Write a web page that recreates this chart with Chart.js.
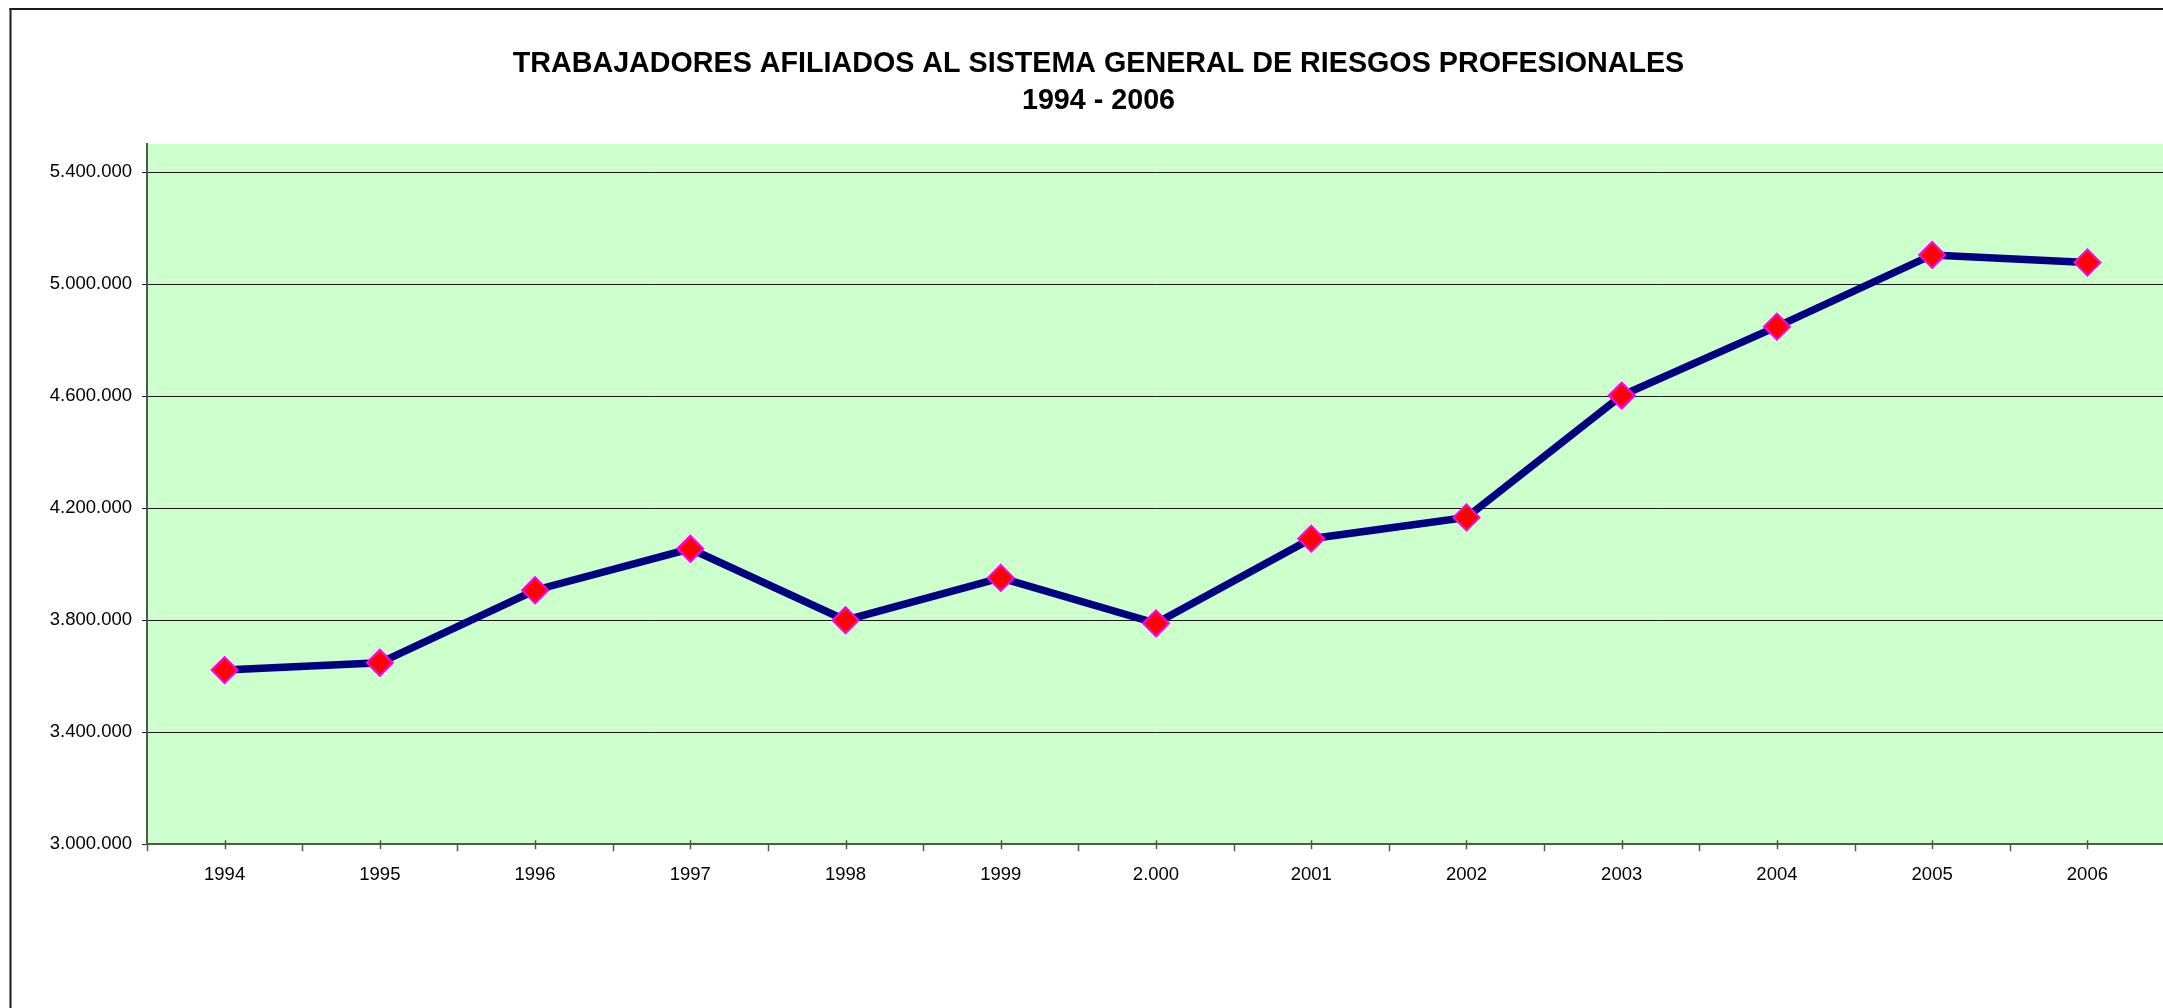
<!DOCTYPE html>
<html>
<head>
<meta charset="utf-8">
<script src="https://cdn.jsdelivr.net/npm/chart.js@4/dist/chart.umd.min.js"></script>
<style>
  html, body { margin: 0; padding: 0; overflow: hidden; background: #ffffff; }
  #wrap { width: 2180px; height: 1008px; }
  canvas { display: block; }
</style>
</head>
<body>
<div id="wrap"><canvas id="c" width="2180" height="1008"></canvas></div>
<script>
const titleLines = ['TRABAJADORES AFILIADOS AL SISTEMA GENERAL DE RIESGOS PROFESIONALES', '1994 - 2006'];
const categories = ['1994', '1995', '1996', '1997', '1998', '1999', '2.000', '2001', '2002', '2003', '2004', '2005', '2006'];
const afiliados = [3622000, 3648000, 3907000, 4055000, 3800000, 3951000, 3789000, 4091000, 4167000, 4602000, 4848000, 5104000, 5077000];
const yTickValues = [3000000, 3400000, 3800000, 4200000, 4600000, 5000000, 5400000];
const yMin = 3000000;
const yMax = 5500000;

function fmt(v) {
  return String(Math.round(v)).replace(/\B(?=(\d{3})+(?!\d))/g, '.');
}

const FONT = "'Liberation Sans', Arial, sans-serif";

const framePlugin = {
  id: 'frameAndBg',
  beforeDraw(chart) {
    const ctx = chart.ctx;
    const a = chart.chartArea;
    ctx.save();
    ctx.fillStyle = '#ffffff';
    ctx.fillRect(0, 0, chart.width, chart.height);
    ctx.fillStyle = '#CCFFCC';
    ctx.fillRect(a.left, a.top, a.right - a.left, a.bottom - a.top);
    ctx.fillStyle = '#1a1a1a';
    ctx.fillRect(9.5, 8, chart.width, 2);
    ctx.fillRect(9.5, 8, 2, chart.height);
    ctx.restore();
  },
  afterDraw(chart) {
    const ctx = chart.ctx;
    const x = chart.scales.x;
    const b = chart.chartArea.bottom;
    ctx.save();
    ctx.strokeStyle = '#4f5a4f';
    ctx.lineWidth = 1.5;
    ctx.beginPath();
    for (let i = 0; i < categories.length; i++) {
      const px = Math.round(x.getPixelForValue(i)) + 0.5;
      ctx.moveTo(px, b - 4);
      ctx.lineTo(px, b + 5);
    }
    for (let i = 0; i <= categories.length; i++) {
      const px = Math.round(x.getPixelForValue(i - 0.5)) + 0.5;
      ctx.moveTo(px, b);
      ctx.lineTo(px, b + 7);
    }
    ctx.stroke();
    ctx.restore();
  }
};

new Chart(document.getElementById('c'), {
  type: 'line',
  data: {
    labels: categories,
    datasets: [{
      label: 'Afiliados',
      data: afiliados,
      borderColor: '#000080',
      borderWidth: 7.5,
      pointStyle: 'rectRot',
      pointRadius: 13,
      pointHoverRadius: 13,
      pointBackgroundColor: '#FF0000',
      pointBorderColor: '#FF00FF',
      pointBorderWidth: 2,
      tension: 0,
      fill: false
    }]
  },
  options: {
    responsive: false,
    animation: false,
    devicePixelRatio: 1,
    layout: { padding: { left: 22, right: 5, top: 0, bottom: 0 } },
    plugins: {
      legend: { display: false },
      tooltip: { enabled: false },
      title: {
        display: true,
        text: titleLines,
        color: '#000000',
        font: { family: FONT, size: 28.7, weight: 'bold', lineHeight: 1.26 },
        padding: { top: 46.4, bottom: 25.3 }
      }
    },
    scales: {
      x: {
        type: 'category',
        offset: true,
        grid: { display: true, drawOnChartArea: false, drawTicks: false, color: 'rgba(0,0,0,0)' },
        border: { display: true, color: '#4f5a4f', width: 2 },
        ticks: {
          color: '#000000',
          font: { family: FONT, size: 18.5 },
          padding: 19.3,
          maxRotation: 0,
          autoSkip: false
        },
        afterFit(scale) { scale.height = 1008 - 844.3; }
      },
      y: {
        min: yMin,
        max: yMax,
        grid: { color: '#1a1a1a', lineWidth: 1, tickLength: 5, drawTicks: true },
        border: { display: true, color: '#4f5a4f', width: 2 },
        ticks: {
          color: '#000000',
          font: { family: FONT, size: 18.5 },
          padding: 10,
          callback: (v) => fmt(v)
        },
        afterBuildTicks(scale) {
          scale.ticks = yTickValues.map(v => ({ value: v }));
        },
        afterFit(scale) { scale.width = 125; }
      }
    }
  },
  plugins: [framePlugin]
});
</script>
</body>
</html>
